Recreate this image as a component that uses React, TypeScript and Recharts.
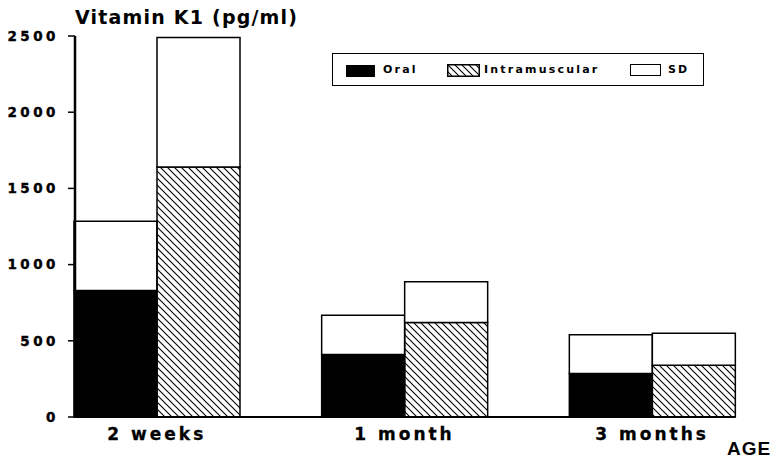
import React from 'react';
import { Bar, BarChart, Legend, XAxis, YAxis } from 'recharts';

const categories = ['2 weeks', '1 month', '3 months'];
const oralMean = [830, 410, 285];
const oralSD = [455, 258, 255];
const imMean = [1640, 620, 340];
const imSD = [850, 268, 210];
const yTicks = [0, 500, 1000, 1500, 2000, 2500];

const data = categories.map((name, i) => ({
	name,
	oral: oralMean[i],
	oralSD: oralSD[i],
	im: imMean[i],
	imSD: imSD[i],
}));

const font = 'DejaVu Sans';

const LegendBox = () => (
	<div
		style={{
			position: 'absolute',
			left: 332,
			top: 53,
			width: 372,
			height: 33,
			border: '1.5px solid #000',
			boxSizing: 'border-box',
			background: '#fff',
			fontFamily: font,
			fontWeight: 700,
			fontSize: 11,
			letterSpacing: 2.2,
			color: '#000',
		}}
	>
		<div style={{ position: 'absolute', left: 13, top: 11, width: 29, height: 12, background: '#000' }} />
		<span style={{ position: 'absolute', left: 50, top: 9 }}>Oral</span>
		<svg style={{ position: 'absolute', left: 114, top: 10 }} width={33} height={13}>
			<rect x={0.75} y={0.75} width={31.5} height={11.5} fill="url(#hatch)" stroke="#000" strokeWidth={1.5} />
		</svg>
		<span style={{ position: 'absolute', left: 151, top: 9 }}>Intramuscular</span>
		<div
			style={{
				position: 'absolute',
				left: 297,
				top: 10,
				width: 31,
				height: 12,
				border: '1.5px solid #000',
				boxSizing: 'border-box',
			}}
		/>
		<span style={{ position: 'absolute', left: 335, top: 9 }}>SD</span>
	</div>
);

const App = () => {
	return (
		<div style={{ position: 'relative', width: 777, height: 458, background: '#fff' }}>
			<style>{'body{margin:0}'}</style>
			<BarChart
				width={777}
				height={458}
				data={data}
				margin={{ top: 36, right: 42, left: 0, bottom: 0 }}
				barGap={0}
				barSize={83}
			>
				<defs>
					<pattern id="hatch" patternUnits="userSpaceOnUse" width={7} height={7}>
						<path d="M-1,-1 L8,8 M-1,6 L1,8 M6,-1 L8,1" stroke="#000" strokeWidth={1.1} />
					</pattern>
				</defs>
				<XAxis
					dataKey="name"
					padding={{ left: -42, right: -41 }}
					axisLine={{ stroke: '#000', strokeWidth: 2 }}
					tickLine={false}
					tickSize={8}
					tickMargin={3}
					height={41}
					tick={{ fill: '#000', stroke: '#000', strokeWidth: 0.3, fontSize: 17, fontWeight: 700, fontFamily: font, letterSpacing: 3 }}
				/>
				<YAxis
					domain={[0, 2500]}
					ticks={yTicks}
					width={75}
					axisLine={{ stroke: '#000', strokeWidth: 2.5 }}
					tickLine={{ stroke: '#000', strokeWidth: 1.5 }}
					tickSize={7}
					tickMargin={9}
					tick={{ fill: '#000', stroke: '#000', strokeWidth: 0.4, fontSize: 13.5, fontWeight: 700, fontFamily: font, letterSpacing: 3.5 }}
				/>
				<Legend content={() => null} />
				<Bar dataKey="oral" stackId="oral" fill="#000" stroke="#000" strokeWidth={1.5} isAnimationActive={false} />
				<Bar dataKey="oralSD" stackId="oral" fill="#fff" stroke="#000" strokeWidth={1.5} isAnimationActive={false} />
				<Bar dataKey="im" stackId="im" fill="url(#hatch)" stroke="#000" strokeWidth={1.5} isAnimationActive={false} />
				<Bar dataKey="imSD" stackId="im" fill="#fff" stroke="#000" strokeWidth={1.5} isAnimationActive={false} />
			</BarChart>
			<div
				style={{
					position: 'absolute',
					left: 75,
					top: 6,
					fontFamily: font,
					fontWeight: 700,
					fontSize: 19,
					letterSpacing: 1.2,
					color: '#000',
				}}
			>
				Vitamin K1 (pg/ml)
			</div>
			<div
				style={{
					position: 'absolute',
					left: 727,
					top: 439,
					fontFamily: 'Liberation Sans',
					fontWeight: 700,
					fontSize: 19,
					letterSpacing: 1,
					lineHeight: '20px',
					color: '#000',
				}}
			>
				AGE
			</div>
			<LegendBox />
		</div>
	);
};

export default App;
